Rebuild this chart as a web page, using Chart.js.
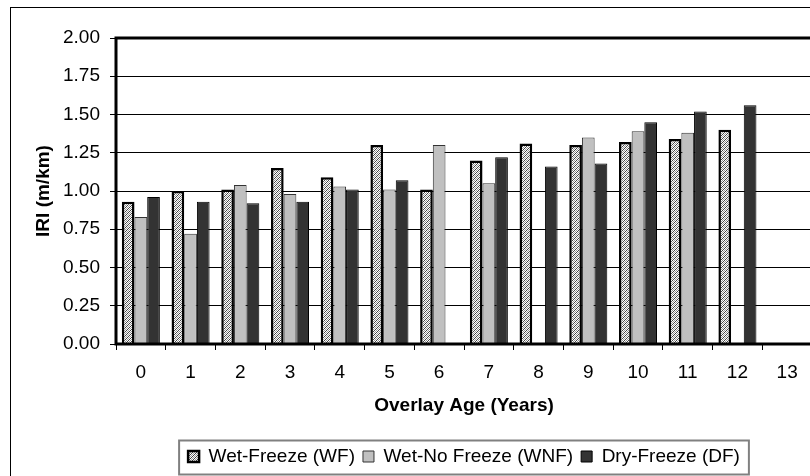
<!DOCTYPE html>
<html>
<head>
<meta charset="utf-8">
<script src="https://cdn.jsdelivr.net/npm/chart.js@4"></script>
<style>
    html, body { margin: 0; padding: 0; background: #fff; overflow: hidden; }
    #frame {
        position: absolute; left: 10px; top: 7px;
        width: 900px; height: 600px;
        border: 1px solid #000;
    }
    #iriChart { position: absolute; left: 0; top: 0; }
</style>
</head>
<body>
<div id="frame"></div>
<canvas id="iriChart" width="820" height="476"></canvas>

<script>
/* ================= DATA ================= */
const AGES = ["0", "1", "2", "3", "4", "5", "6", "7", "8", "9", "10", "11", "12", "13"];

const WET_FREEZE    = [0.93, 1.00, 1.01, 1.15, 1.09, 1.30, 1.01, 1.20, 1.31, 1.30, 1.32, 1.34, 1.40, null];
const WET_NO_FREEZE = [0.83, 0.72, 1.04, 0.98, 1.03, 1.01, 1.30, 1.05, null, 1.35, 1.39, 1.38, null, null];
const DRY_FREEZE    = [0.96, 0.93, 0.92, 0.93, 1.01, 1.07, null, 1.22, 1.16, 1.18, 1.45, 1.52, 1.56, null];

const SERIES_LABELS = ["Wet-Freeze (WF)", "Wet-No Freeze (WNF)", "Dry-Freeze (DF)"];

const FONT = "'Liberation Sans', Arial, sans-serif";

/* ================= HATCH PATTERN (WF) ================= */
function makeHatch() {
    const c = document.createElement("canvas");
    c.width = 4;
    c.height = 4;
    const g = c.getContext("2d");
    g.fillStyle = "#ffffff";
    g.fillRect(0, 0, 4, 4);
    for (let x = 0; x < 4; x++) {
        for (let y = 0; y < 4; y++) {
            const d = (x + y) % 4;
            if (d === 0) { g.fillStyle = "#444"; g.fillRect(x, y, 1, 1); }
            if (d === 2) { g.fillStyle = "#999"; g.fillRect(x, y, 1, 1); }
        }
    }
    return g.createPattern(c, "repeat");
}

/* ================= PLUGINS ================= */
// thick frame round the plot area
const plotFrame = {
    id: "plotFrame",
    afterDatasetsDraw(chart) {
        const a = chart.chartArea;
        const ctx = chart.ctx;
        ctx.save();
        ctx.strokeStyle = "#000";
        ctx.lineWidth = 3;
        ctx.strokeRect(a.left, a.top, a.right - a.left, a.bottom - a.top);
        ctx.restore();
    }
};

// box round the legend items
const legendBox = {
    id: "legendBox",
    afterDraw(chart) {
        const boxes = chart.legend && chart.legend.legendHitBoxes;
        if (!boxes || !boxes.length) return;
        const minX = Math.min(...boxes.map(b => b.left));
        const maxX = Math.max(...boxes.map(b => b.left + b.width));
        const cy = boxes[0].top + boxes[0].height / 2;
        const ctx = chart.ctx;
        ctx.save();
        ctx.strokeStyle = "#808080";
        ctx.lineWidth = 2;
        ctx.strokeRect(minX - 9, cy - 16, (maxX - minX) + 18, 34);
        ctx.restore();
    }
};

/* ================= CHART ================= */
const ctx = document.getElementById("iriChart");

new Chart(ctx, {
    type: "bar",
    data: {
        labels: AGES,
        datasets: [
            {
                label: SERIES_LABELS[0],
                data: WET_FREEZE,
                backgroundColor: makeHatch(),
                borderColor: "#000",
                borderWidth: 2.5
            },
            {
                label: SERIES_LABELS[1],
                data: WET_NO_FREEZE,
                backgroundColor: "#c0c0c0",
                borderColor: "#333",
                borderWidth: 1
            },
            {
                label: SERIES_LABELS[2],
                data: DRY_FREEZE,
                backgroundColor: "#333333",
                borderColor: "#000",
                borderWidth: 1
            }
        ]
    },
    options: {
        responsive: false,
        animation: false,
        categoryPercentage: 0.765,
        barPercentage: 1.0,
        layout: {
            padding: { top: 38, right: 8, bottom: 0, left: 0 }
        },
        scales: {
            x: {
                grid: {
                    display: true,
                    offset: true,
                    drawOnChartArea: false,
                    drawTicks: true,
                    tickLength: 6,
                    color: "#000",
                    lineWidth: 1
                },
                border: { display: false },
                ticks: {
                    color: "#000",
                    padding: 11,
                    font: { family: FONT, size: 19 }
                },
                title: {
                    display: true,
                    text: "Overlay Age (Years)",
                    color: "#000",
                    padding: { top: 0, bottom: 22 },
                    font: { family: FONT, size: 19, weight: "bold" }
                },
                afterFit(scale) { scale.height = 95; }
            },
            y: {
                min: 0,
                max: 2,
                grid: {
                    color: "#000",
                    lineWidth: 1,
                    drawTicks: true,
                    tickLength: 6
                },
                border: { display: false },
                ticks: {
                    stepSize: 0.25,
                    color: "#000",
                    padding: 10,
                    font: { family: FONT, size: 19 },
                    callback: v => v.toFixed(2)
                },
                title: {
                    display: true,
                    text: "IRI (m/km)",
                    color: "#000",
                    padding: { top: 32, bottom: 0 },
                    font: { family: FONT, size: 19, weight: "bold" }
                },
                afterFit(scale) { scale.width = 116; }
            }
        },
        plugins: {
            legend: {
                position: "bottom",
                fullSize: false,
                labels: {
                    boxWidth: 11,
                    boxHeight: 11,
                    padding: 8,
                    color: "#000",
                    font: { family: FONT, size: 19 }
                }
            },
            tooltip: { enabled: false }
        }
    },
    plugins: [plotFrame, legendBox]
});
</script>
</body>
</html>
